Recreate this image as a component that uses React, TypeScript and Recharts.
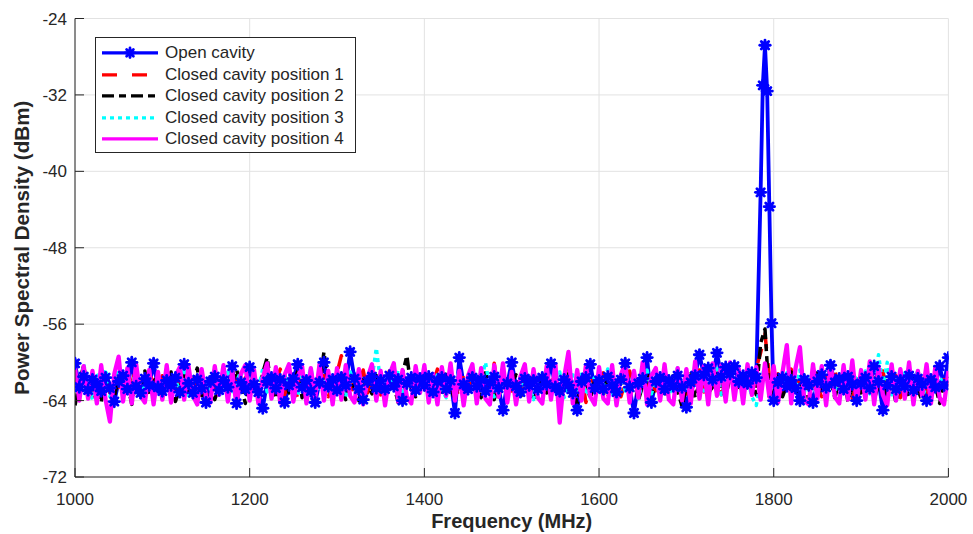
import React from 'react';
import { LineChart, Line, XAxis, YAxis, CartesianGrid, Legend } from 'recharts';

// ---- data -----------------------------------------------------------------
const FREQ_START = 1000; // MHz, first sample
const FREQ_STEP = 5; // MHz between samples

const X_TICKS = [1000, 1200, 1400, 1600, 1800, 2000];
const Y_TICKS = [-72, -64, -56, -48, -40, -32, -24];

const SERIES_NAMES = [
  'Open cavity',
  'Closed cavity position 1',
  'Closed cavity position 2',
  'Closed cavity position 3',
  'Closed cavity position 4',
];

// Open cavity (dBm), 1000..2000 MHz every 5 MHz
const OPEN_CAVITY = [
  -60.1, -62.6, -61.5, -62.9, -61.8, -62.3, -63.0, -61.6, -62.7, -64.1,
  -62.0, -61.4, -62.8, -60.0, -62.5, -63.2, -61.7, -62.4, -60.1, -62.6,
  -63.0, -61.9, -62.4, -61.6, -63.1, -60.2, -62.2, -63.2, -61.8, -62.7,
  -64.2, -62.0, -61.5, -62.9, -61.9, -62.6, -60.4, -64.3, -62.1, -62.8,
  -60.5, -62.3, -63.1, -64.8, -62.0, -61.6, -62.7, -61.8, -64.2, -62.4,
  -61.7, -60.2, -62.6, -61.9, -63.0, -64.2, -62.1, -60.0, -62.5, -61.8,
  -62.9, -61.6, -62.4, -58.9, -61.7, -62.8, -63.9, -62.0, -61.5, -62.7,
  -61.9, -62.8, -61.4, -62.5, -61.8, -64.0, -62.2, -61.6, -62.9, -61.7,
  -62.4, -61.5, -63.1, -62.0, -61.6, -62.8, -61.9, -65.3, -59.5, -62.3,
  -62.8, -61.6, -62.5, -61.8, -63.0, -62.1, -61.5, -62.7, -65.0, -62.2,
  -60.0, -62.5, -63.1, -61.7, -62.4, -61.9, -62.8, -61.6, -62.3, -60.1,
  -62.6, -63.0, -61.8, -62.4, -63.2, -65.0, -62.0, -61.6, -60.2, -62.7,
  -61.9, -62.8, -61.5, -62.4, -63.1, -61.8, -60.1, -62.6, -65.3, -62.2,
  -61.7, -59.5, -64.2, -62.0, -61.6, -62.8, -61.9, -62.5, -61.4, -62.6,
  -64.7, -62.1, -61.4, -59.2, -61.3, -60.6, -61.8, -59.0, -61.5, -60.5,
  -61.2, -60.4, -62.0, -61.4, -62.2, -61.1, -61.6, -42.2, -26.8, -43.7,
  -64.0, -62.1, -61.6, -62.5, -61.9, -62.7, -64.0, -61.8, -62.4, -64.2,
  -62.0, -61.3, -62.6, -60.3, -62.1, -61.7, -62.8, -61.5, -62.3, -64.0,
  -62.2, -61.6, -62.7, -60.4, -62.0, -65.0, -62.4, -61.5, -62.8, -61.9,
  -62.5, -61.4, -62.9, -61.7, -62.3, -64.0, -61.8, -62.6, -60.4, -62.4,
  -59.5,
];
// extra open-cavity samples on the resonance peak
const OPEN_PEAK_FREQS = [1787.5, 1792.5, 1797.5];
const OPEN_PEAK_VALUES = [-31.0, -31.6, -55.9];

const CLOSED_POS_1 = [
  -61.8, -63.0, -60.9, -62.4, -63.6, -61.5, -62.7, -60.8, -63.2, -61.9,
  -62.6, -61.0, -63.8, -62.1, -60.7, -62.9, -63.4, -61.3, -62.0, -63.1,
  -61.4, -62.8, -60.6, -63.7, -61.9, -62.5, -61.1, -63.3, -62.2, -60.9,
  -63.6, -61.7, -62.4, -63.9, -61.2, -62.8, -60.8, -62.1, -63.5, -61.6,
  -62.9, -61.0, -63.8, -62.3, -61.5, -63.1, -62.0, -60.7, -63.4, -61.8,
  -62.5, -63.7, -61.3, -62.1, -60.9, -63.0, -62.6, -61.4, -63.6, -62.2,
  -61.1, -59.3, -62.8, -63.5, -61.6, -62.3, -60.8, -63.2, -62.0, -61.5,
  -63.4, -62.1, -60.9, -62.7, -63.8, -61.2, -62.5, -61.7, -63.0, -62.4,
  -61.3, -63.6, -62.2, -60.7, -62.9, -63.3, -61.6, -62.0, -63.9, -61.1,
  -62.6, -61.8, -63.2, -62.4, -61.0, -62.8, -60.1, -63.5, -62.1, -61.6,
  -63.0, -62.3, -61.2, -63.7, -62.5, -60.8, -62.9, -61.4, -63.3, -62.0,
  -61.5, -63.8, -62.2, -60.6, -63.1, -62.6, -61.3, -64.2, -62.0, -61.7,
  -62.8, -61.1, -63.4, -62.3, -61.8, -63.6, -62.1, -60.9, -62.7, -63.2,
  -61.4, -62.9, -60.7, -63.5, -62.0, -61.6, -63.0, -62.4, -61.2, -62.8,
  -63.3, -61.5, -62.2, -60.8, -63.1, -61.9, -62.6, -61.1, -63.4, -62.0,
  -61.3, -62.7, -60.9, -63.0, -61.8, -62.3, -60.6, -59.0, -57.0, -61.5,
  -62.8, -61.2, -63.5, -62.0, -60.7, -62.9, -61.6, -63.3, -62.2, -61.0,
  -62.7, -63.6, -61.4, -62.1, -60.8, -63.0, -62.5, -61.3, -63.8, -62.2,
  -61.1, -62.9, -63.4, -61.6, -62.3, -60.9, -63.1, -62.6, -61.4, -63.7,
  -62.0, -61.2, -63.5, -62.4, -61.0, -62.8, -63.9, -61.5, -62.6, -61.8,
  -62.3,
];

const CLOSED_POS_2 = [
  -64.5, -62.1, -60.3, -63.4, -61.6, -62.9, -64.2, -61.1, -62.5, -63.7,
  -61.4, -63.0, -62.2, -64.4, -61.8, -62.6, -60.9, -63.3, -62.0, -61.5,
  -63.6, -62.4, -61.0, -64.1, -62.7, -61.3, -63.2, -62.0, -60.6, -63.5,
  -62.2, -61.6, -63.9, -62.5, -61.2, -63.1, -62.8, -60.8, -62.3, -64.3,
  -61.9, -62.7, -63.4, -61.1, -59.5, -62.6, -63.8, -62.0, -61.4, -63.2,
  -62.4, -60.9, -63.7, -62.1, -61.6, -63.0, -62.8, -58.9, -62.3, -63.6,
  -61.8, -62.5, -63.9, -61.3, -62.7, -64.0, -61.5, -62.2, -63.3, -61.0,
  -62.9, -63.5, -61.7, -62.4, -64.2, -61.2, -59.3, -62.8, -63.6, -61.9,
  -62.3, -63.8, -61.4, -62.7, -63.1, -60.9, -62.5, -64.1, -61.6, -62.9,
  -63.4, -61.8, -62.2, -63.7, -61.1, -62.6, -63.9, -62.0, -61.5, -63.3,
  -62.1, -61.3, -63.6, -62.8, -61.9, -64.0, -62.4, -61.0, -63.2, -62.6,
  -61.7, -63.5, -62.3, -61.2, -62.9, -64.3, -61.6, -62.0, -63.8, -61.9,
  -62.7, -63.4, -61.5, -62.2, -63.9, -61.3, -62.6, -63.1, -61.8, -64.0,
  -62.4, -61.1, -63.3, -62.8, -61.7, -63.6, -62.0, -61.4, -63.0, -64.6,
  -62.5, -61.2, -63.7, -62.1, -61.8, -63.2, -62.6, -61.0, -62.9, -63.5,
  -61.6, -62.3, -63.0, -61.4, -62.7, -61.9, -63.4, -58.0, -56.5, -63.8,
  -62.1, -61.3, -63.6, -62.4, -61.0, -63.1, -62.7, -61.5, -63.9, -62.2,
  -61.1, -63.3, -62.6, -61.8, -63.7, -62.0, -61.4, -64.1, -62.5, -61.7,
  -63.2, -62.8, -61.2, -63.9, -62.3, -61.6, -63.4, -62.1, -64.2, -61.9,
  -62.6, -63.5, -61.3, -62.9, -64.0, -61.8, -63.1, -62.4, -64.3, -62.0,
  -61.5,
];

const CLOSED_POS_3 = [
  -61.5, -63.3, -60.2, -62.6, -63.9, -61.1, -62.4, -60.7, -63.6, -62.0,
  -60.9, -63.1, -61.8, -62.7, -60.5, -63.4, -62.2, -61.3, -63.8, -61.6,
  -62.5, -60.8, -63.2, -61.9, -62.9, -60.6, -63.5, -62.1, -61.4, -63.0,
  -61.7, -62.8, -60.4, -63.6, -62.3, -61.0, -63.3, -62.0, -60.9, -62.6,
  -63.4, -61.5, -62.7, -60.7, -63.1, -62.2, -61.3, -63.7, -62.4, -60.8,
  -62.9, -63.5, -61.2, -62.1, -60.6, -63.0, -62.6, -61.6, -63.2, -62.0,
  -61.4, -62.8, -63.6, -61.0, -62.3, -60.9, -63.4, -62.5, -61.8, -58.5,
  -62.2, -63.3, -61.1, -62.7, -60.8, -63.8, -62.1, -61.5, -63.0, -62.4,
  -60.7, -63.5, -62.0, -61.3, -62.9, -63.7, -61.6, -62.3, -60.9, -63.1,
  -62.5, -61.2, -63.4, -62.0, -60.0, -62.8, -63.6, -61.4, -62.2, -63.0,
  -61.7, -62.6, -63.3, -60.8, -62.1, -63.9, -61.5, -62.7, -60.6, -63.2,
  -62.3, -61.0, -63.7, -62.5, -61.3, -62.9, -60.9, -63.4, -62.0, -61.6,
  -63.1, -62.4, -60.7, -63.6, -62.2, -61.5, -63.0, -62.6, -61.1, -63.8,
  -62.0, -60.8, -63.3, -61.9, -62.7, -61.2, -63.5, -62.1, -60.6, -62.9,
  -63.2, -61.6, -62.4, -60.9, -63.0, -61.7, -62.5, -60.7, -63.4, -62.2,
  -61.3, -62.8, -60.5, -63.1, -61.8, -63.6, -64.5, -62.0, -60.4, -63.3,
  -61.9, -63.0, -62.3, -61.1, -63.7, -62.6, -60.8, -63.2, -61.5, -62.4,
  -63.5, -61.2, -62.7, -60.6, -63.0, -62.1, -61.4, -63.6, -62.3, -61.7,
  -62.9, -60.9, -63.3, -62.0, -59.2, -62.5, -60.0, -63.4, -61.8, -62.6,
  -61.1, -63.1, -62.2, -60.7, -63.7, -62.4, -61.3, -63.0, -62.0, -61.6,
  -62.5,
];

const CLOSED_POS_4 = [
  -60.6, -64.0, -60.4, -63.8, -60.9, -64.3, -60.3, -63.9, -66.2, -61.2,
  -59.4, -64.1, -60.6, -64.3, -60.2, -63.5, -64.2, -60.8, -64.4, -61.0,
  -63.9, -60.3, -64.2, -61.4, -60.5, -63.9, -60.4, -63.5, -64.4, -60.7,
  -63.6, -64.2, -60.4, -63.4, -60.3, -64.1, -60.9, -64.5, -61.2, -60.3,
  -64.0, -60.8, -64.3, -61.6, -60.1, -63.8, -60.5, -64.2, -61.3, -60.2,
  -64.1, -61.5, -60.4, -64.3, -60.6, -63.7, -60.2, -64.0, -60.9, -64.4,
  -60.6, -63.9, -60.3, -63.5, -64.2, -60.7, -64.4, -61.6, -60.2, -64.0,
  -60.9, -64.5, -61.3, -60.1, -64.1, -60.8, -63.6, -64.3, -60.4, -63.2,
  -60.3, -64.2, -61.2, -64.4, -60.5, -63.5, -60.1, -64.0, -60.9, -64.5,
  -61.4, -60.2, -64.3, -60.6, -63.8, -64.4, -60.3, -63.6, -60.1, -64.2,
  -61.0, -64.4, -61.5, -60.2, -64.1, -60.7, -63.7, -64.3, -60.4, -63.9,
  -60.2, -66.3, -61.6, -58.9, -64.3, -60.8, -64.0, -60.3, -63.6, -64.4,
  -60.5, -63.8, -64.3, -60.3, -64.5, -61.3, -60.1, -64.2, -60.9, -63.7,
  -60.0, -64.4, -61.4, -60.6, -64.0, -60.2, -63.9, -64.4, -60.6, -64.0,
  -60.7, -64.3, -59.9, -63.8, -60.4, -64.4, -60.1, -63.5, -60.3, -64.1,
  -60.0, -63.9, -60.7, -64.3, -60.2, -63.4, -60.5, -63.9, -60.1, -63.6,
  -60.4, -64.2, -61.1, -58.2, -64.3, -60.6, -58.4, -64.0, -64.4, -60.2,
  -63.8, -60.4, -64.5, -60.0, -63.6, -64.3, -60.3, -63.9, -59.8, -64.2,
  -60.8, -63.9, -59.9, -64.4, -60.5, -63.4, -64.5, -60.2, -64.0, -60.7,
  -63.8, -60.0, -64.4, -60.9, -63.5, -60.2, -64.3, -60.5, -63.7, -64.4,
  -60.9,
];

// ---- helpers --------------------------------------------------------------
type Pt = { f: number; v: number };
const toPoints = (values: number[]): Pt[] =>
  values.map((v, i) => ({ f: FREQ_START + FREQ_STEP * i, v }));

const openData: Pt[] = [
  ...toPoints(OPEN_CAVITY),
  ...OPEN_PEAK_FREQS.map((f, i) => ({ f, v: OPEN_PEAK_VALUES[i] })),
].sort((a, b) => a.f - b.f);

const BLUE = '#0000ff';
const RED = '#ff0000';
const BLACK = '#000000';
const CYAN = '#00ffff';
const MAGENTA = '#ff00ff';
const AXIS = '#262626';
const FONT = '"Liberation Sans", Arial, Helvetica, sans-serif';

const SERIES = [
  { name: SERIES_NAMES[0], data: openData, color: BLUE, dash: undefined as string | undefined, width: 3.8, marker: true },
  { name: SERIES_NAMES[1], data: toPoints(CLOSED_POS_1), color: RED, dash: '15 15', width: 3.5, marker: false },
  { name: SERIES_NAMES[2], data: toPoints(CLOSED_POS_2), color: BLACK, dash: '12 5 7 5', width: 3.5, marker: false },
  { name: SERIES_NAMES[3], data: toPoints(CLOSED_POS_3), color: CYAN, dash: '4 4', width: 3.5, marker: false },
  { name: SERIES_NAMES[4], data: toPoints(CLOSED_POS_4), color: MAGENTA, dash: undefined, width: 4.3, marker: false },
];

const Asterisk = ({ cx, cy, color, arm = 5.2, r = 4.0 }: { cx: number; cy: number; color: string; arm?: number; r?: number }) => (
  <g>
    <circle cx={cx} cy={cy} r={r} fill={color} />
    {[0, 45, 90, 135].map((a) => {
      const rad = (a * Math.PI) / 180;
      const dx = Math.cos(rad) * arm;
      const dy = Math.sin(rad) * arm;
      return (
        <line
          key={a}
          x1={cx - dx}
          y1={cy - dy}
          x2={cx + dx}
          y2={cy + dy}
          stroke={color}
          strokeWidth={2.8}
          strokeLinecap="round"
        />
      );
    })}
  </g>
);

const LegendBox = () => (
  <div
    style={{
      boxSizing: 'border-box',
      width: 261,
      height: 116,
      border: `1px solid ${AXIS}`,
      background: '#ffffff',
      paddingTop: 4,
    }}
  >
    {SERIES.map((s) => (
      <div key={s.name} style={{ display: 'flex', alignItems: 'center', height: 21.6 }}>
        <svg width={69} height={21.6} style={{ display: 'block', flex: '0 0 auto' }}>
          <line
            x1={6}
            x2={62}
            y1={10.8}
            y2={10.8}
            stroke={s.color}
            strokeWidth={3.2}
            strokeDasharray={s.dash}
          />
          {s.marker ? <Asterisk cx={34} cy={10.8} color={s.color} arm={4.8} r={3.6} /> : null}
        </svg>
        <span
          style={{
            fontFamily: FONT,
            fontSize: 17,
            color: AXIS,
            whiteSpace: 'nowrap',
            lineHeight: '21.6px',
          }}
        >
          {s.name}
        </span>
      </div>
    ))}
  </div>
);

const YLabel = (props: any) => {
  const vb = props.viewBox || {};
  const cx = (vb.x ?? 0) + 21;
  const cy = (vb.y ?? 0) + (vb.height ?? 0) / 2;
  return (
    <text
      x={cx}
      y={cy}
      transform={`rotate(-90 ${cx} ${cy})`}
      textAnchor="middle"
      dominantBaseline="central"
      fill={AXIS}
      fontFamily={FONT}
      fontSize={20.6}
      fontWeight="bold"
    >
      Power Spectral Density (dBm)
    </text>
  );
};

const tickStyle = { fill: AXIS, fontSize: 17, fontFamily: FONT };

export default function App() {
  return (
    <div style={{ width: 973, height: 534, background: '#ffffff' }}>
      <style>{'body{margin:0;background:#ffffff;}'}</style>
      <LineChart
        width={973}
        height={534}
        margin={{ top: 18.5, right: 24.6, bottom: 0, left: 0 }}
      >
        <CartesianGrid stroke="#e2e2e2" strokeWidth={1} />
        <XAxis
          dataKey="f"
          type="number"
          domain={[1000, 2000]}
          ticks={X_TICKS}
          interval={0}
          allowDataOverflow
          height={57}
          tickSize={-9}
          tickMargin={25}
          tick={tickStyle}
          axisLine={{ stroke: AXIS }}
          tickLine={{ stroke: AXIS }}
          label={{
            value: 'Frequency (MHz)',
            position: 'insideBottom',
            offset: 6,
            fill: AXIS,
            fontSize: 20,
            fontWeight: 'bold',
            fontFamily: FONT,
          }}
        />
        <XAxis
          xAxisId="top"
          orientation="top"
          dataKey="f"
          type="number"
          domain={[1000, 2000]}
          ticks={X_TICKS}
          interval={0}
          allowDataOverflow
          height={0}
          tickSize={-9}
          tickFormatter={() => ''}
          axisLine={{ stroke: AXIS }}
          tickLine={{ stroke: AXIS }}
        />
        <YAxis
          type="number"
          domain={[-72, -24]}
          ticks={Y_TICKS}
          interval={0}
          allowDataOverflow
          width={75}
          tickSize={-9}
          tickMargin={17}
          tick={tickStyle}
          axisLine={{ stroke: AXIS }}
          tickLine={{ stroke: AXIS }}
          label={<YLabel />}
        />
        <YAxis
          yAxisId="right"
          orientation="right"
          type="number"
          domain={[-72, -24]}
          ticks={Y_TICKS}
          interval={0}
          allowDataOverflow
          width={0}
          tickSize={-9}
          tickFormatter={() => ''}
          axisLine={{ stroke: AXIS }}
          tickLine={{ stroke: AXIS }}
        />
        {SERIES.map((s, si) => (
          <Line
            key={s.name}
            data={s.data}
            dataKey="v"
            name={s.name}
            type="linear"
            stroke={s.color}
            strokeWidth={s.width}
            strokeDasharray={s.dash}
            strokeLinejoin="round"
            dot={
              s.marker
                ? (p: any) => <Asterisk key={`m${si}-${p.index}`} cx={p.cx} cy={p.cy} color={s.color} />
                : false
            }
            activeDot={false}
            isAnimationActive={false}
          />
        ))}
        <Legend
          layout="vertical"
          align="center"
          verticalAlign="middle"
          wrapperStyle={{ left: 95, top: 37, width: 261, height: 116 }}
          content={() => <LegendBox />}
        />
      </LineChart>
    </div>
  );
}
